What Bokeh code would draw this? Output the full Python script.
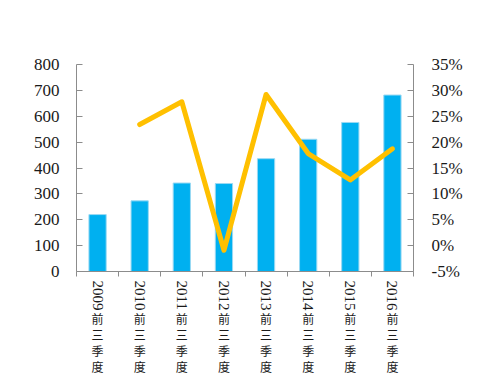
import math
from bokeh.plotting import figure
from bokeh.models import (Range1d, LinearAxis, FixedTicker, PrintfTickFormatter,
                          Legend, LegendItem, ColumnDataSource)
from bokeh.embed import file_html
from bokeh.resources import INLINE

categories = ["2009前三季度", "2010前三季度", "2011前三季度", "2012前三季度",
              "2013前三季度", "2014前三季度", "2015前三季度", "2016前三季度"]
profit = [220, 273, 342, 340, 436, 511, 576, 682]
yoy = [float("nan"), 23.4, 27.8, -0.9, 29.2, 17.8, 12.7, 18.7]
left_ticks = [0, 100, 200, 300, 400, 500, 600, 700, 800]
right_ticks = [-5, 0, 5, 10, 15, 20, 25, 30, 35]

n = len(categories)
xs = [i + 0.5 for i in range(n)]
src = ColumnDataSource(dict(x=xs, profit=profit, yoy=yoy))

AX = "#8c8c8c"
TXT = "#1a1a1a"
NUMFONT = "Liberation Serif"
CJK = "Noto Sans CJK SC"

p = figure(width=490, height=377, x_range=Range1d(0, n), y_range=Range1d(0, 800),
           output_backend="svg", toolbar_location=None,
           min_border_left=76, min_border_right=77, min_border_top=64, min_border_bottom=100)
p.xgrid.visible = False
p.ygrid.visible = False
p.outline_line_color = None

bars = p.vbar(x="x", top="profit", width=0.41, source=src,
              fill_color="#00B0F0", line_color="#9ad9f3", line_width=1)
p.extra_y_ranges = {"pct": Range1d(-5, 35)}
ln = p.line(x="x", y="yoy", source=src, y_range_name="pct",
            line_color="#FFC000", line_width=5, line_join="round", line_cap="round")

ya = p.yaxis[0]
ya.ticker = FixedTicker(ticks=left_ticks)
ya.axis_line_color = AX
ya.major_tick_line_color = AX
ya.major_tick_in = 6
ya.major_tick_out = 0
ya.minor_tick_line_color = None
ya.major_label_text_font = NUMFONT
ya.major_label_text_font_size = "17px"
ya.major_label_text_color = TXT
ya.major_label_standoff = 17

ra = LinearAxis(y_range_name="pct", ticker=FixedTicker(ticks=right_ticks),
                formatter=PrintfTickFormatter(format="%d%%"))
ra.axis_line_color = AX
ra.major_tick_line_color = AX
ra.major_tick_in = 6
ra.major_tick_out = 0
ra.minor_tick_line_color = None
ra.major_label_text_font = NUMFONT
ra.major_label_text_font_size = "17px"
ra.major_label_text_color = TXT
ra.major_label_standoff = 18
p.add_layout(ra, "right")

# bottom axis: year part, rotated to read top-to-bottom; boundary ticks
xa = p.xaxis[0]
xa.ticker = FixedTicker(ticks=xs, minor_ticks=list(range(n + 1)))
xa.major_label_overrides = {x: c[:4] for x, c in zip(xs, categories)}
xa.major_label_orientation = -math.pi / 2
xa.axis_line_color = AX
xa.major_tick_line_color = None
xa.minor_tick_line_color = AX
xa.minor_tick_in = 0
xa.minor_tick_out = 5
xa.major_label_text_font = NUMFONT
xa.major_label_text_font_size = "15px"
xa.major_label_text_color = TXT
xa.major_label_standoff = 3

# upright CJK characters stacked under the year, one axis per character
for k in range(4, len(categories[0])):
    ax = LinearAxis(ticker=FixedTicker(ticks=xs))
    ax.major_label_overrides = {x: c[k] for x, c in zip(xs, categories)}
    ax.axis_line_color = None
    ax.major_tick_line_color = None
    ax.minor_tick_line_color = None
    ax.major_tick_out = 0
    ax.major_tick_in = 0
    ax.major_label_text_font = CJK
    ax.major_label_text_font_size = "12px"
    ax.major_label_text_color = TXT
    ax.major_label_standoff = -4
    p.add_layout(ax, "below")

legend = Legend(items=[LegendItem(label="归母净利润（亿元）", renderers=[bars]),
                       LegendItem(label="同比", renderers=[ln])],
                orientation="horizontal", location=(1, 228),
                glyph_width=42, glyph_height=14, label_standoff=5, spacing=45,
                label_text_font=CJK, label_text_font_size="18px", label_text_color=TXT,
                border_line_color=None, background_fill_alpha=0, padding=4, margin=0)
p.add_layout(legend, "center")

open("out.html", "w").write(file_html(p, INLINE))
